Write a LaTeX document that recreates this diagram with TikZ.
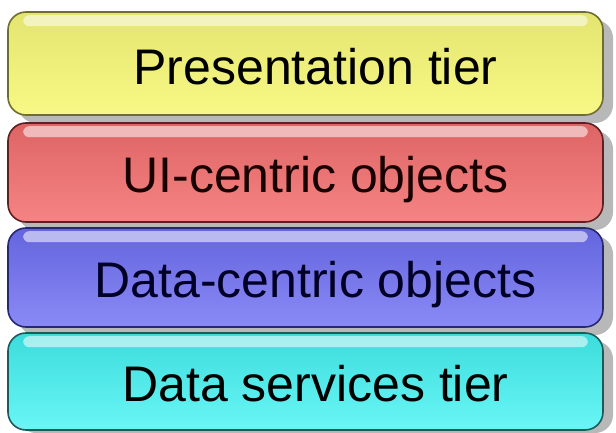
\documentclass[tikz,border=0pt]{standalone}
\usepackage{fontspec}
\setmainfont{Liberation Sans}
\usetikzlibrary{calc}
\definecolor{yfill}{HTML}{F8F886}
\definecolor{ytop}{HTML}{E4E470}
\definecolor{yline}{HTML}{6E6E30}
\definecolor{rfill}{HTML}{F68484}
\definecolor{rtop}{HTML}{DE6464}
\definecolor{rline}{HTML}{5E2020}
\definecolor{bfill}{HTML}{8A8AF6}
\definecolor{btop}{HTML}{6464DE}
\definecolor{bline}{HTML}{262870}
\definecolor{cfill}{HTML}{6AF6F6}
\definecolor{ctop}{HTML}{3CDCDC}
\definecolor{cline}{HTML}{1E5A5A}
\tikzset{
  tierbox/.style={rectangle, rounded corners=18pt, minimum width=595pt, line width=1.6pt, inner sep=0pt},
  tiershadow/.style={fill=black!28, rounded corners=18pt},
  tiershine/.style={fill=white, opacity=0.55, rounded corners=6pt},
  tiertext/.style={anchor=base, font=\fontsize{50}{60}\selectfont, inner sep=0pt}
}
\begin{document}
\begin{tikzpicture}[x=1pt,y=1pt]
\useasboundingbox[fill=white] (0,0) rectangle (616,-433);
% shadows
\fill[tiershadow] (18,-20) rectangle (613,-123);
\fill[tiershadow] (18,-131) rectangle (613,-230);
\fill[tiershadow] (18,-236) rectangle (613,-335);
\fill[tiershadow] (18,-341) rectangle (613,-433);
% boxes
\node[tierbox, minimum height=103pt, draw=yline, top color=ytop, bottom color=yfill] (b1) at (305.5,-63.5) {};
\node[tierbox, minimum height=99pt, draw=rline, top color=rtop, bottom color=rfill] (b2) at (305.5,-172.5) {};
\node[tierbox, minimum height=99pt, draw=bline, top color=btop, bottom color=bfill] (b3) at (305.5,-277.5) {};
\node[tierbox, minimum height=97pt, draw=cline, top color=ctop, bottom color=cfill] (b4) at (305.5,-381.5) {};
% highlights
\foreach \b in {b1,b2,b3,b4}{
  \fill[tiershine] ($(\b.north west)+(16,-4)$) rectangle ($(\b.north east)+(-16,-15)$);
}
% texts
\node[tiertext, text=black] (t1) at ($(b1.center)+(10,-21)$) {Presentation tier};
\node[tiertext, text=black!90!red] (t2) at ($(b2.center)+(10,-20)$) {UI-centric objects};
\node[tiertext, text=black!85!blue] (t3) at ($(b3.center)+(10,-20)$) {Data-centric objects};
\node[tiertext, text=black] (t4) at ($(b4.center)+(10,-20)$) {Data services tier};
\end{tikzpicture}
\end{document}
